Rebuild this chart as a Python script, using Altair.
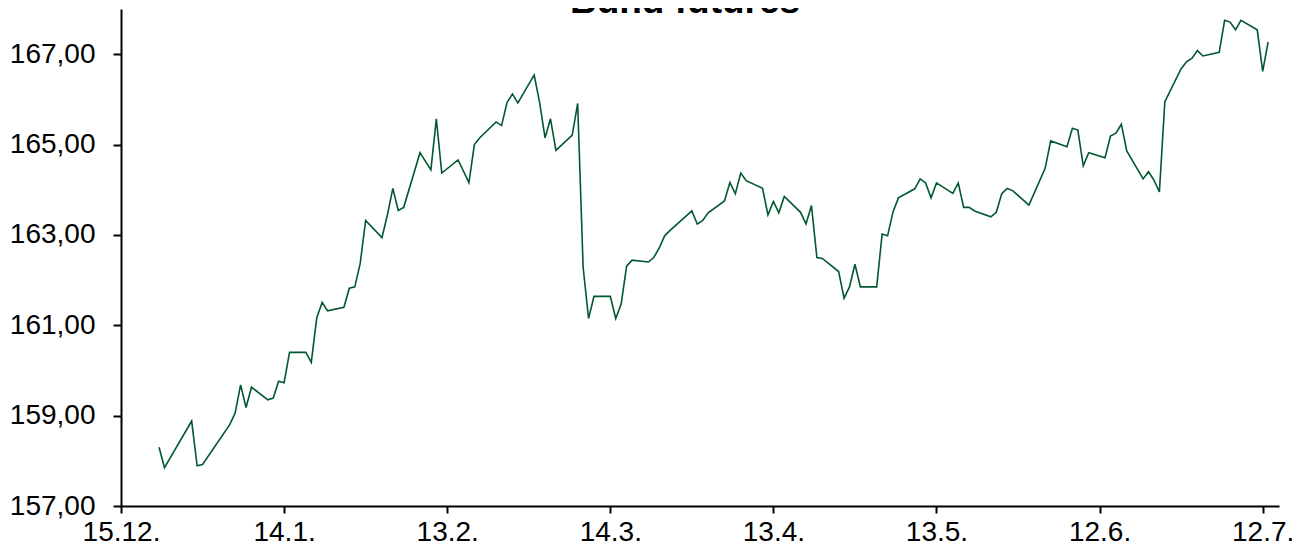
import altair as alt
import pandas as pd

dates = [
    "2015-12-22", "2015-12-23", "2015-12-28", "2015-12-29", "2015-12-30",
    "2016-01-04", "2016-01-05", "2016-01-06", "2016-01-07", "2016-01-08",
    "2016-01-11", "2016-01-12", "2016-01-13", "2016-01-14", "2016-01-15",
    "2016-01-18", "2016-01-19", "2016-01-20", "2016-01-21", "2016-01-22",
    "2016-01-25", "2016-01-26", "2016-01-27", "2016-01-28", "2016-01-29",
    "2016-02-01", "2016-02-02", "2016-02-03", "2016-02-04", "2016-02-05",
    "2016-02-08", "2016-02-10", "2016-02-11", "2016-02-12",
    "2016-02-15", "2016-02-17", "2016-02-18", "2016-02-19",
    "2016-02-22", "2016-02-23", "2016-02-24", "2016-02-25", "2016-02-26",
    "2016-02-29", "2016-03-01", "2016-03-02", "2016-03-03", "2016-03-04",
    "2016-03-07", "2016-03-08", "2016-03-09", "2016-03-10", "2016-03-11",
    "2016-03-14", "2016-03-15", "2016-03-16", "2016-03-17", "2016-03-18",
    "2016-03-21", "2016-03-22", "2016-03-23", "2016-03-24", "2016-03-25",
    "2016-03-29", "2016-03-30", "2016-03-31", "2016-04-01",
    "2016-04-04", "2016-04-05", "2016-04-06", "2016-04-07", "2016-04-08",
    "2016-04-11", "2016-04-12", "2016-04-13", "2016-04-14", "2016-04-15",
    "2016-04-18", "2016-04-19", "2016-04-20", "2016-04-21", "2016-04-22",
    "2016-04-25", "2016-04-26", "2016-04-27", "2016-04-28", "2016-04-29",
    "2016-05-02", "2016-05-03", "2016-05-04", "2016-05-05", "2016-05-06",
    "2016-05-09", "2016-05-10", "2016-05-11", "2016-05-12", "2016-05-13",
    "2016-05-16", "2016-05-17", "2016-05-18", "2016-05-19", "2016-05-20",
    "2016-05-23", "2016-05-24", "2016-05-25", "2016-05-26", "2016-05-27",
    "2016-05-30", "2016-06-02", "2016-06-03",
    "2016-06-06", "2016-06-07", "2016-06-08", "2016-06-09", "2016-06-10",
    "2016-06-13", "2016-06-14", "2016-06-15", "2016-06-16", "2016-06-17",
    "2016-06-20", "2016-06-21", "2016-06-22", "2016-06-23", "2016-06-24",
    "2016-06-27", "2016-06-28", "2016-06-29", "2016-06-30", "2016-07-01",
    "2016-07-04", "2016-07-05", "2016-07-06", "2016-07-07", "2016-07-08",
    "2016-07-11", "2016-07-12", "2016-07-13",
]

prices = [
    158.30, 157.85, 158.88, 157.89, 157.92,
    158.80, 159.06, 159.68, 159.18, 159.63,
    159.35, 159.39, 159.76, 159.73, 160.40,
    160.40, 160.18, 161.16, 161.51, 161.32,
    161.40, 161.82, 161.85, 162.37, 163.32,
    162.94, 163.44, 164.03, 163.54, 163.61,
    164.82, 164.44, 165.57, 164.37,
    164.66, 164.16, 165.00, 165.15,
    165.50, 165.42, 165.93, 166.12, 165.92,
    166.54, 165.93, 165.15, 165.57, 164.87,
    165.21, 165.91, 162.29, 161.15, 161.64,
    161.64, 161.15, 161.47, 162.31, 162.44,
    162.40, 162.50, 162.71, 162.98, 163.10,
    163.53, 163.24, 163.32, 163.49,
    163.75, 164.16, 163.91, 164.37, 164.20,
    164.03, 163.44, 163.74, 163.49, 163.85,
    163.50, 163.24, 163.65, 162.50, 162.48,
    162.19, 161.60, 161.85, 162.35, 161.85,
    161.85, 163.02, 162.98, 163.51, 163.82,
    164.02, 164.24, 164.15, 163.82, 164.15,
    163.92, 164.15, 163.61, 163.61, 163.53,
    163.40, 163.50, 163.91, 164.03, 163.98,
    163.66, 164.48, 165.08,
    164.95, 165.36, 165.32, 164.53, 164.82,
    164.71, 165.19, 165.25, 165.45, 164.86,
    164.24, 164.40, 164.21, 163.95, 165.95,
    166.68, 166.83, 166.91, 167.08, 166.96,
    167.04, 167.75, 167.71, 167.54, 167.75,
    167.54, 166.62, 167.27,
]

title_text = ["Bund futures"]

x_ticks = [(2015, 12, 15), (2016, 1, 14), (2016, 2, 13), (2016, 3, 14),
           (2016, 4, 13), (2016, 5, 13), (2016, 6, 12), (2016, 7, 12)]
y_ticks = [157, 159, 161, 163, 165, 167]
x_domain = [(2015, 12, 15), (2016, 7, 15)]
y_domain = [157, 168]

df = pd.DataFrame({"date": dates, "price": prices})
title_df = pd.DataFrame({"t": title_text})

FONT = "Liberation Sans"
LINE_COLOR = "#00582F"


def dt(t):
    return alt.DateTime(year=t[0], month=t[1], date=t[2], utc=True)


line = alt.Chart(df).mark_line(color=LINE_COLOR, strokeWidth=1.6).encode(
    x=alt.X(
        "date:T",
        scale=alt.Scale(type="utc", domain=[dt(t) for t in x_domain], nice=False),
        axis=alt.Axis(
            values=[dt(t) for t in x_ticks],
            format="%-d.%-m.",
            title=None,
            grid=False,
            labelFont=FONT,
            labelFontSize=28,
            labelColor="#000000",
            labelPadding=5,
            labelFlush=False,
            labelOverlap=False,
            tickSize=7,
            tickWidth=2,
            tickColor="#000000",
            domainColor="#000000",
            domainWidth=2,
        ),
    ),
    y=alt.Y(
        "price:Q",
        scale=alt.Scale(domain=y_domain, nice=False, zero=False),
        axis=alt.Axis(
            values=y_ticks,
            labelExpr="replace(format(datum.value, '.2f'), '.', ',')",
            title=None,
            grid=False,
            labelFont=FONT,
            labelFontSize=28,
            labelColor="#000000",
            labelPadding=18,
            labelFlush=False,
            labelOverlap=False,
            tickSize=8,
            tickWidth=2,
            tickColor="#000000",
            domainColor="#000000",
            domainWidth=2,
        ),
    ),
)

title = alt.Chart(title_df).mark_text(
    font=FONT,
    fontSize=37,
    fontWeight="bold",
    color="#000000",
    align="center",
    baseline="alphabetic",
).encode(
    text="t:N",
    x=alt.value(564),
    y=alt.value(4),
)

chart = alt.layer(line, title).properties(
    width=1158,
    height=497,
    autosize=alt.AutoSizeParams(type="none"),
    padding={"left": 113, "top": 1, "right": 13, "bottom": 37},
).configure_view(stroke=None)

chart.save("out.html", embed_options={"renderer": "svg", "actions": False})
